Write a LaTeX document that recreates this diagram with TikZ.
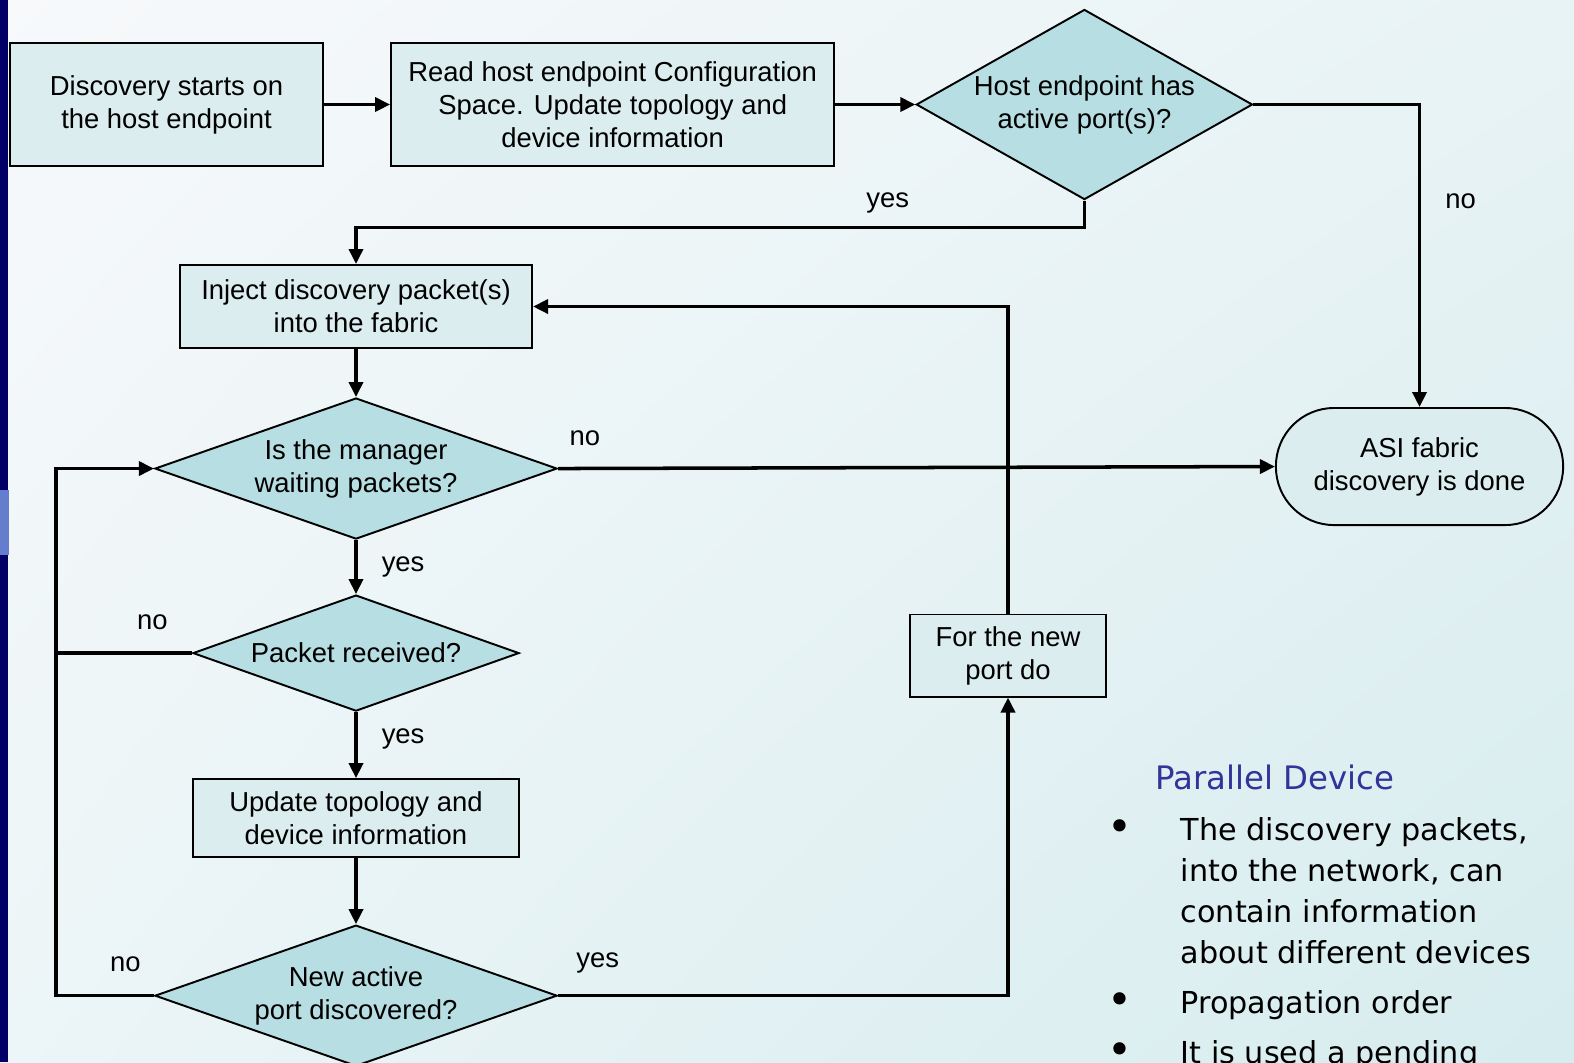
\documentclass[tikz,border=0pt]{standalone}
\usepackage{fontspec}
\setmainfont{Liberation Sans}
\newfontfamily\notefont{DejaVu Sans}
\usetikzlibrary{shapes.geometric, arrows.meta, positioning, shadings}
\definecolor{cBoxFill}{RGB}{219,237,239}
\definecolor{cDiaFill}{RGB}{183,222,226}
\definecolor{cNavy}{RGB}{0,0,102}
\definecolor{cPatch}{RGB}{100,125,205}
\definecolor{cTitle}{RGB}{51,51,153}
\definecolor{cBgTL}{RGB}{247,249,251}
\definecolor{cBgTR}{RGB}{232,243,245}
\definecolor{cBgBL}{RGB}{236,245,247}
\definecolor{cBgBR}{RGB}{214,236,238}
\tikzset{
	stepbox/.style  ={rectangle, draw=black, line width=0.55pt, fill=cBoxFill, align=center, font=\fontsize{7.8pt}{9.4pt}\selectfont},
	decision/.style ={diamond, aspect=2.8, draw=black, line width=0.55pt, fill=cDiaFill, align=center, inner sep=0pt, font=\fontsize{7.8pt}{9.4pt}\selectfont},
	termbox/.style  ={rectangle, rounded corners=0.58cm, draw=black, line width=0.55pt, fill=cBoxFill, align=center, minimum width=2.87cm, minimum height=1.17cm, font=\fontsize{7.8pt}{9.4pt}\selectfont},
	flow/.style     ={-{Triangle[length=0.15cm, width=0.14cm]}, line width=1pt},
	link/.style     ={line width=1pt},
	lbl/.style      ={inner sep=0pt, font=\fontsize{7.8pt}{9.4pt}\selectfont},
	notehead/.style ={anchor=base west, inner sep=0pt, text=cTitle, font=\notefont\fontsize{9.2pt}{11pt}\selectfont},
	notetext/.style ={anchor=base west, inner sep=0pt, align=left, font=\notefont\fontsize{8.6pt}{11.66pt}\selectfont},
	bulletmark/.style={anchor=base, inner sep=0pt, font=\notefont\fontsize{12pt}{14pt}\selectfont},
}
\begin{document}
\begin{tikzpicture}[x=0.01cm, y=-0.01cm]
	\path[use as bounding box] (0,0) rectangle (1574,1062);
	\clip (0,0) rectangle (1574,1062);
	\shade[upper left=cBgTL, upper right=cBgTR, lower left=cBgBL, lower right=cBgBR] (0,0) rectangle (1574,1062);
	\fill[cNavy] (0,0) rectangle (8,1062);
	\fill[cPatch] (0,490) rectangle (9,555);
	% flow chart
	\node[stepbox, minimum width=3.13cm, minimum height=1.23cm] (start) at (166.5,104.5) {Discovery starts on\\the host endpoint};
	\node[stepbox, minimum width=4.43cm, minimum height=1.23cm, right=0.66cm of start] (readcfg) {Read host endpoint Configuration\\Space. Update topology and\\device information};
	\node[decision, aspect=1.77, minimum width=3.36cm, minimum height=1.9cm, right=0.8cm of readcfg] (hasport) {Host endpoint has\\active port(s)?};
	\node[stepbox, minimum width=3.52cm, minimum height=0.83cm] (inject) at (356,306.5) {Inject discovery packet(s)\\into the fabric};
	\node[decision, minimum width=4.02cm, minimum height=1.41cm, below=0.48cm of inject] (waiting) {Is the manager\\waiting packets?};
	\node[decision, minimum width=3.26cm, minimum height=1.16cm, below=0.54cm of waiting] (received) {Packet received?};
	\node[stepbox, minimum width=3.26cm, minimum height=0.78cm, below=0.66cm of received] (update) {Update topology and\\device information};
	\node[decision, minimum width=4.02cm, minimum height=1.41cm, below=0.66cm of update] (newport) {New active\\port discovered?};
	\node[stepbox, minimum width=1.96cm, minimum height=0.77cm] (forport) at (1008,655.5) {For the new\\port do};
	\node[termbox] (done) at (1419.5,466.5) {ASI fabric\\discovery is done};
	\draw[flow] (start) -- (readcfg);
	\draw[flow] (readcfg) -- (hasport);
	\draw[flow] (hasport.east) -| node[lbl, pos=0.66, right=0.24cm] {no} (done.north);
	\draw[flow] (hasport.south) -- ++(0,27) -| node[lbl, pos=0.135, above=0.13cm] {yes} (inject.north);
	\draw[flow] (inject) -- (waiting);
	\draw[flow] (waiting.east) -- node[lbl, pos=0.0375, above=0.21cm] {no} (done.west);
	\draw[flow] (waiting) -- node[lbl, right=0.24cm] {yes} (received);
	\draw[flow] (received) -- node[lbl, pos=0.41, right=0.24cm] {yes} (update);
	\draw[link] (received.west) -- node[lbl, pos=0.29, above=0.22cm] {no} ++(-136,0);
	\draw[flow] (update) -- (newport);
	\draw[flow] (newport.west) -- node[lbl, pos=0.29, above=0.22cm] {no} ++(-98,0) |- (waiting.west);
	\draw[flow] (newport.east) -| node[lbl, pos=0.044, above=0.21cm] {yes} (forport.south);
	\draw[flow] (forport.north) |- (inject.east);
	% notes
	\node[notehead] (notetitle) at (1155,789) {Parallel Device};
	\node[bulletmark] (bul1) at (1120,841) {•};
	\node[notetext, anchor=north west] (note1) at (1180,817) {The discovery packets,\\into the network, can\\contain information\\about different devices};
	\node[bulletmark] (bul2) at (1120,1014) {•};
	\node[notetext] (note2) at (1180,1013) {Propagation order};
	\node[bulletmark] (bul3) at (1120,1064) {•};
	\node[notetext] (note3) at (1180,1063) {It is used a pending};
\end{tikzpicture}
\end{document}
